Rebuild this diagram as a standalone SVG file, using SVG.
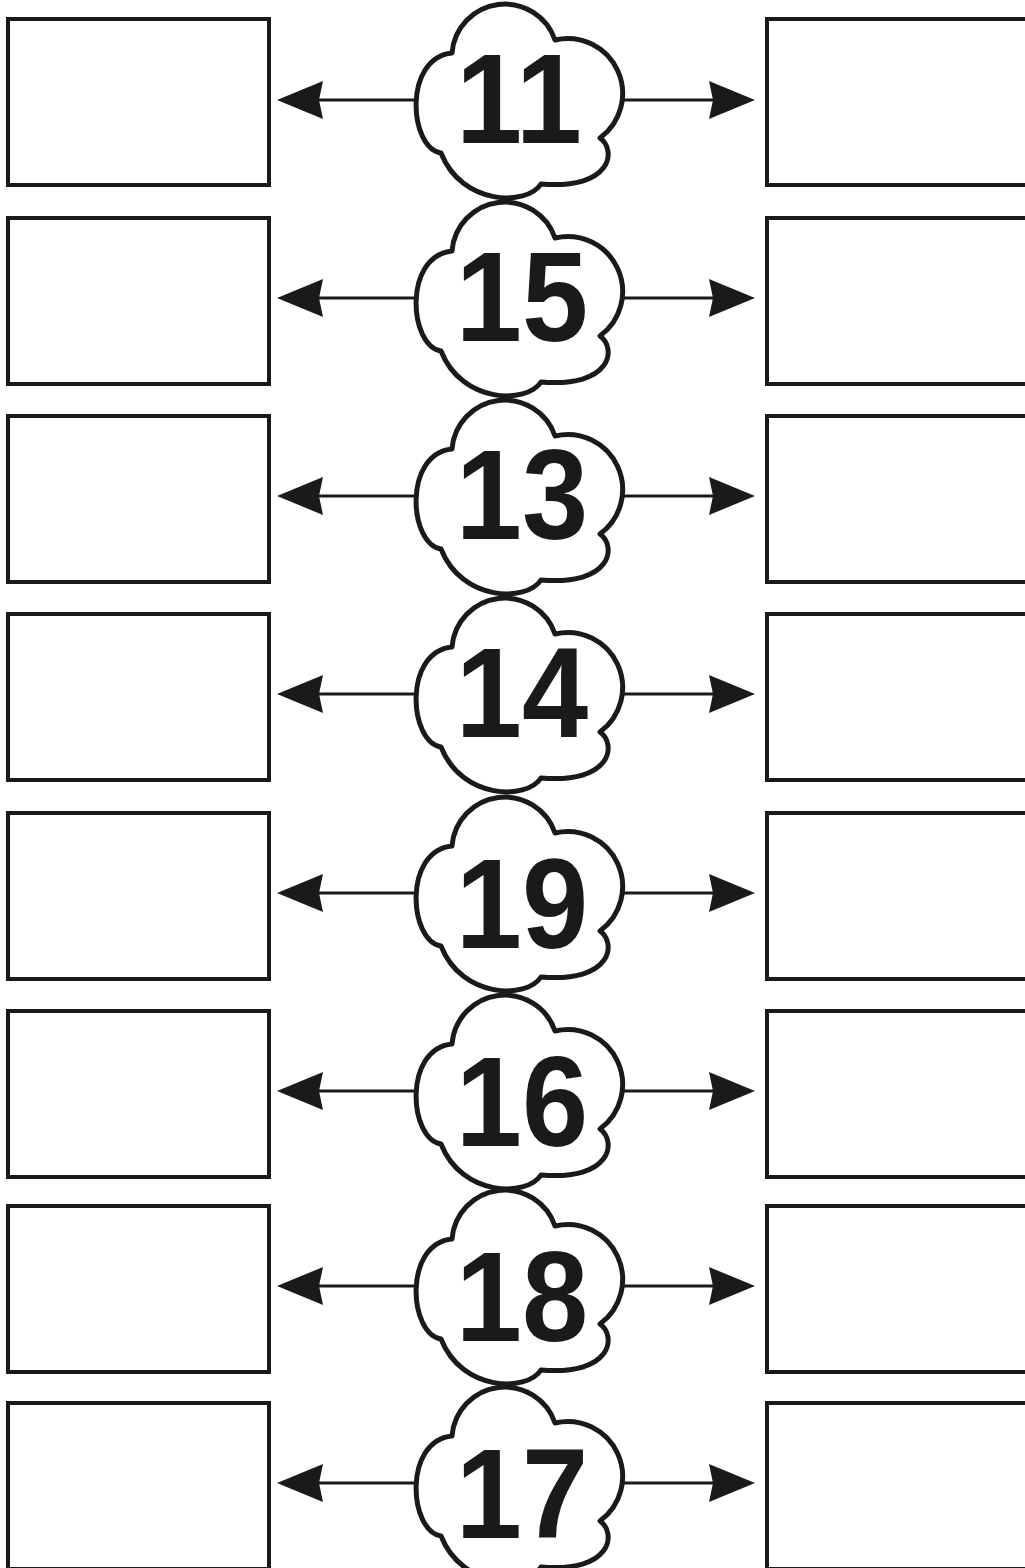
<svg xmlns="http://www.w3.org/2000/svg" xmlns:xlink="http://www.w3.org/1999/xlink" width="1025" height="1568" viewBox="0 0 1025 1568">
<style>
.box{fill:#fff;stroke:#1a1a1a;stroke-width:4}
.cloud{fill:#fff;stroke:#1a1a1a;stroke-width:5;stroke-linejoin:round}
.num{font-family:"Liberation Sans",Arial,sans-serif;font-weight:bold;font-size:128px;fill:#1a1a1a;text-anchor:middle}
.conn{stroke:#1a1a1a;stroke-width:3;fill:none;marker-end:url(#ah)}
</style>
<defs>
<marker id="ah" markerUnits="userSpaceOnUse" viewBox="-1 -21 50 42" refX="4" refY="0" markerWidth="50" markerHeight="42" orient="auto">
<path d="M46,0 L0,-19 L4,0 L0,19 Z" fill="#1a1a1a"/>
</marker>
<path id="cloud" class="cloud" d="M-65,-45 A53,53 0 0 1 38,-58 A55,55 0 0 1 83,40 C100,52 95,92 24,86 C10,108 -55,108 -76,55 C-108,50 -114,-40 -65,-45 Z"/>
</defs>
<rect width="1025" height="1568" fill="#fff"/>

<g id="connectors">
<line class="conn" x1="414" y1="100" x2="319" y2="100"/><line class="conn" x1="620" y1="100" x2="713" y2="100"/>
<line class="conn" x1="414" y1="298" x2="319" y2="298"/><line class="conn" x1="620" y1="298" x2="713" y2="298"/>
<line class="conn" x1="414" y1="496" x2="319" y2="496"/><line class="conn" x1="620" y1="496" x2="713" y2="496"/>
<line class="conn" x1="414" y1="694" x2="319" y2="694"/><line class="conn" x1="620" y1="694" x2="713" y2="694"/>
<line class="conn" x1="414" y1="893" x2="319" y2="893"/><line class="conn" x1="620" y1="893" x2="713" y2="893"/>
<line class="conn" x1="414" y1="1091" x2="319" y2="1091"/><line class="conn" x1="620" y1="1091" x2="713" y2="1091"/>
<line class="conn" x1="414" y1="1286" x2="319" y2="1286"/><line class="conn" x1="620" y1="1286" x2="713" y2="1286"/>
<line class="conn" x1="414" y1="1483" x2="319" y2="1483"/><line class="conn" x1="620" y1="1483" x2="713" y2="1483"/>
</g>

<g id="left-boxes">
<rect id="L1" class="box" x="8" y="19" width="261" height="166"/>
<rect id="L2" class="box" x="8" y="218" width="261" height="166"/>
<rect id="L3" class="box" x="8" y="416" width="261" height="166"/>
<rect id="L4" class="box" x="8" y="614" width="261" height="166"/>
<rect id="L5" class="box" x="8" y="813" width="261" height="166"/>
<rect id="L6" class="box" x="8" y="1011" width="261" height="166"/>
<rect id="L7" class="box" x="8" y="1206" width="261" height="166"/>
<rect id="L8" class="box" x="8" y="1403" width="261" height="166"/>
</g>
<g id="right-boxes">
<rect id="R1" class="box" x="767" y="19" width="300" height="166"/>
<rect id="R2" class="box" x="767" y="218" width="300" height="166"/>
<rect id="R3" class="box" x="767" y="416" width="300" height="166"/>
<rect id="R4" class="box" x="767" y="614" width="300" height="166"/>
<rect id="R5" class="box" x="767" y="813" width="300" height="166"/>
<rect id="R6" class="box" x="767" y="1011" width="300" height="166"/>
<rect id="R7" class="box" x="767" y="1206" width="300" height="166"/>
<rect id="R8" class="box" x="767" y="1403" width="300" height="166"/>
</g>

<g id="n11" transform="translate(517,98)"><use xlink:href="#cloud"/><text class="num" transform="translate(2,45) scale(0.93,1)">11</text></g>
<g id="n15" transform="translate(517,296)"><use xlink:href="#cloud"/><text class="num" transform="translate(5,45) scale(0.93,1)">15</text></g>
<g id="n13" transform="translate(517,494)"><use xlink:href="#cloud"/><text class="num" transform="translate(5,45) scale(0.93,1)">13</text></g>
<g id="n14" transform="translate(517,692)"><use xlink:href="#cloud"/><text class="num" transform="translate(5,45) scale(0.93,1)">14</text></g>
<g id="n19" transform="translate(517,891)"><use xlink:href="#cloud"/><text class="num" transform="translate(5,57) scale(0.93,1)">19</text></g>
<g id="n16" transform="translate(517,1089)"><use xlink:href="#cloud"/><text class="num" transform="translate(5,57) scale(0.93,1)">16</text></g>
<g id="n18" transform="translate(517,1284)"><use xlink:href="#cloud"/><text class="num" transform="translate(5,57) scale(0.93,1)">18</text></g>
<g id="n17" transform="translate(517,1481)"><use xlink:href="#cloud"/><text class="num" transform="translate(5,57) scale(0.93,1)">17</text></g>
</svg>
